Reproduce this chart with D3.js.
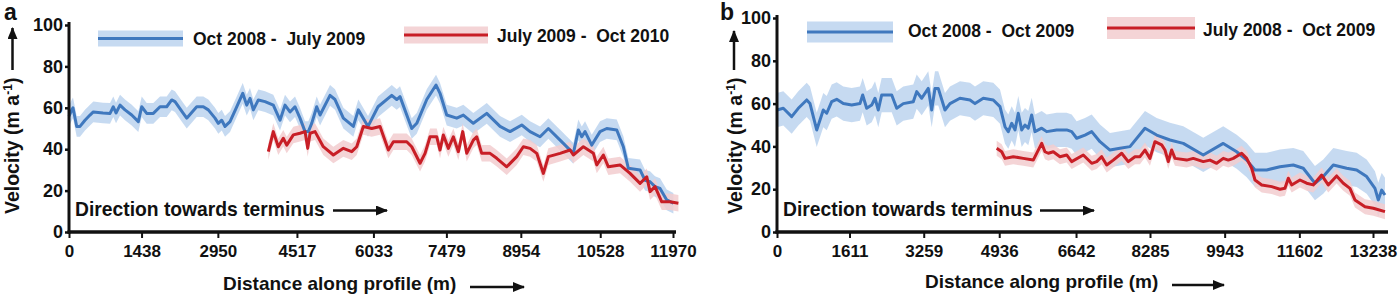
<!DOCTYPE html>
<html>
<head>
<meta charset="utf-8">
<script src="https://cdn.jsdelivr.net/npm/d3@7"></script>
<style>
  body { margin: 0; background: #fff; }
  text { font-family: "Liberation Sans", Arial, sans-serif; font-weight: bold; fill: #111; }
</style>
</head>
<body>
<script>
// ---- data (distance in m, velocity in m/a) ----
var yTicks = [0, 20, 40, 60, 80, 100];

// panel a
var aXTicks = [0, 1438, 2950, 4517, 6033, 7479, 8954, 10528, 11970];
var aBlueLabel = "Oct 2008 -  July 2009";
var aRedLabel = "July 2009 -  Oct 2010";
var aBlueDist = [0,54,79,153,218,317,416,482,674,813,878,932,1011,1110,1243,1374,1441,1540,1671,1804,1936,2036,2101,2265,2333,2531,2662,2761,2894,2959,3027,3092,3191,3324,3443,3522,3587,3653,3752,3885,4049,4182,4281,4380,4479,4578,4678,4743,4810,4909,4975,5173,5272,5437,5635,5734,5926,6124,6396,6495,6560,6792,6892,7090,7274,7353,7486,7684,7815,8013,8279,8542,8741,8973,9137,9335,9500,9732,9995,10094,10162,10227,10360,10524,10657,10855,10986,11085,11317,11416,11515,11614,11713,11846,11977];
var aBlueVel = [56,58.9,60,51,51,54,56.5,58,57.5,57.3,60.5,57.5,61.3,59,56.5,53.3,60.5,57.3,57.3,60.5,60.5,63.8,63,57.3,55,60.5,60.5,59,55,52.5,54,51,53.3,60.5,67,61.3,64.6,59,63.8,63,61.3,54,61.3,58,60.5,55,48.5,48.5,52.5,60.5,56.5,66,64,55,51,59,51,60.5,66,64,65.4,50,52.5,64,71,67,56.5,55,56.5,52.5,57.3,51,48.5,51.7,48.5,46,50,44.4,38,49.3,46,48.5,42,48.5,50,49.3,41.2,30.8,30,25,24.3,21.9,21,15.5,13.9];
var aBlueErr = 5;
var aRedDist = [3950,4049,4148,4247,4315,4446,4578,4678,4731,4777,4876,5040,5239,5437,5603,5702,5833,6000,6164,6329,6428,6693,6792,6957,7056,7155,7288,7353,7419,7518,7617,7716,7803,7882,8013,8080,8179,8344,8477,8675,8873,9004,9137,9270,9401,9500,9732,9930,9995,10194,10392,10459,10590,10689,10921,11119,11317,11450,11515,11614,11747,11912,12077];
var aRedVel = [38.8,48.5,41.2,45.3,42,46.9,47.7,48.5,40.4,47.7,48.5,41.2,37.2,40.4,38.8,41.2,51,50,51,39.6,43.6,43.6,41.2,33.2,38,46,46,39.6,46.9,40.4,46,38.8,48.5,38,44.4,46,38,38,35.6,31.5,36.4,41.2,40.4,38,28.3,36.4,38,39.6,37.2,41.2,38,32.4,37.2,31.5,32.4,28.3,23.5,26.7,19.5,21.9,14.6,14.6,13.9];
var aRedErr = 4;

// panel b
var bXTicks = [0, 1611, 3259, 4936, 6642, 8285, 9943, 11602, 13238];
var bBlueLabel = "Oct 2008 -  Oct 2009";
var bRedLabel = "July 2008 -  Oct 2009";
var bBlueDist = [0,140,326,473,660,733,882,1028,1104,1215,1326,1473,1659,1843,1903,1992,2103,2177,2250,2325,2548,2659,2805,3027,3103,3214,3360,3436,3509,3582,3731,3842,4064,4287,4398,4582,4804,4953,5064,5137,5213,5286,5359,5435,5508,5581,5657,5730,5879,5990,6212,6434,6545,6656,6841,6990,7174,7396,7618,7840,8173,8433,8729,9024,9468,9912,10210,10432,10617,10876,11172,11467,11689,11949,12133,12356,12653,12875,13097,13282,13355,13431,13504];
var bBlueVel = [57,57.8,53.9,57.8,61.7,60,47.7,57,55.5,60.9,62,60,59.3,60,64,57.8,59.3,62.5,57,64,64,57.8,60,60.9,65.6,62.5,67.1,57,67.1,67.1,57,60,62.5,61.7,60,62.5,61.7,58.6,49.2,46.9,50.8,47.7,55.5,47.7,50,48.5,54.7,46.9,48.5,46.9,47.7,47.7,46.9,43.8,45.3,46.9,42.2,38.3,39.1,39.9,48.5,45.3,43,41.4,36,41.4,37.5,33.6,29,29,30.5,31.3,29.8,22.8,25.9,31.3,29.8,29,25.9,20.4,15,19.6,17.3];
var bBlueErr = 8;
var bRedDist = [4880,4991,5064,5248,5470,5692,5879,5952,6026,6137,6285,6434,6545,6803,6990,7101,7212,7323,7469,7656,7802,7951,8062,8173,8284,8395,8544,8617,8691,8766,8840,9099,9246,9468,9617,9766,9912,10024,10135,10321,10432,10543,10617,10766,10988,11172,11283,11357,11431,11616,11764,11911,12098,12244,12430,12578,12726,12837,13060,13245,13504];
var bRedVel = [39.1,37.5,34.4,35.2,34.4,33.6,41.4,37.5,36.8,37.5,35.2,36,32.9,36,32.1,32.9,35.2,31.3,33.6,36.8,32.9,35.2,35.2,38.3,34.4,42.2,40.7,38.3,32.9,38.3,34.4,33.6,34.4,32.9,33.6,32.1,34.4,33.6,34.4,36.8,34.4,29.8,24.3,22,21.2,20,20.4,25.1,22,24.3,22.8,22,26.6,22,26.2,22.8,20.4,15,11.8,11.1,9.5];
var bRedErr = 3.5;

var blueLine = "#3f78be", blueBand = "#bcd3ef";
var redLine = "#c81e26", redBand = "#f2cdcf";

var svg = d3.select("body").append("svg")
    .attr("width", 1400)
    .attr("height", 299);

// arrow head
svg.append("defs").append("marker")
    .attr("id", "head")
    .attr("markerUnits", "userSpaceOnUse")
    .attr("markerWidth", 12).attr("markerHeight", 10)
    .attr("refX", 11).attr("refY", 5)
    .attr("orient", "auto")
  .append("path")
    .attr("d", "M0,0 L12,5 L0,10 Z")
    .attr("fill", "#111");

function arrow(x1, y1, x2, y2) {
  svg.append("line")
    .attr("x1", x1).attr("y1", y1).attr("x2", x2).attr("y2", y2)
    .attr("stroke", "#111").attr("stroke-width", 2.5)
    .attr("marker-end", "url(#head)");
}

function drawPanel(p) {
  var x = d3.scaleLinear().domain([0, p.xMax]).range([p.left, p.right]);
  var y = d3.scaleLinear().domain([0, 100]).range([232, p.top]);
  var g = svg.append("g");

  var series = [
    {dist: p.blueDist, vel: p.blueVel, err: p.blueErr, line: blueLine, band: blueBand},
    {dist: p.redDist, vel: p.redVel, err: p.redErr, line: redLine, band: redBand}
  ];

  // error bands
  series.forEach(function(s) {
    var pts = d3.zip(s.dist, s.vel);
    var area = d3.area()
      .x(d => x(d[0]))
      .y0(d => y(d[1] - s.err))
      .y1(d => y(d[1] + s.err));
    g.append("path").datum(pts)
      .attr("d", area)
      .attr("fill", s.band)
      .attr("opacity", 0.85);
  });

  // velocity lines
  series.forEach(function(s) {
    var pts = d3.zip(s.dist, s.vel);
    var line = d3.line().x(d => x(d[0])).y(d => y(d[1]));
    g.append("path").datum(pts)
      .attr("d", line)
      .attr("fill", "none")
      .attr("stroke", s.line)
      .attr("stroke-width", 3)
      .attr("stroke-linejoin", "round");
  });

  // x axis
  var xAxis = g.append("g")
    .attr("transform", "translate(0,232)")
    .call(d3.axisBottom(x).tickValues(p.xTicks).tickSize(6).tickPadding(7).tickFormat(d3.format("d")));
  xAxis.select(".domain").remove();
  xAxis.selectAll(".tick line").attr("stroke", "#111").attr("stroke-width", 2);
  xAxis.selectAll("text").style("font-size", "17px").attr("fill", "#111");

  // y axis
  var yAxis = g.append("g")
    .attr("transform", "translate(" + p.left + ",0)")
    .call(d3.axisLeft(y).tickValues(yTicks).tickSize(4).tickPadding(2));
  yAxis.select(".domain").remove();
  yAxis.selectAll(".tick line").attr("stroke", "#111").attr("stroke-width", 2.5);
  yAxis.selectAll("text").style("font-size", "18px").attr("fill", "#111");

  // thick axis lines
  g.append("line")
    .attr("x1", p.left - 1.5).attr("x2", p.axisEnd)
    .attr("y1", 232).attr("y2", 232)
    .attr("stroke", "#111").attr("stroke-width", 3.5);
  g.append("line")
    .attr("x1", p.left).attr("x2", p.left)
    .attr("y1", 233.5).attr("y2", y(100) - 3)
    .attr("stroke", "#111").attr("stroke-width", 3);

  // panel letter
  svg.append("text").attr("x", p.letterX).attr("y", 20)
    .style("font-size", "23px").text(p.letter);

  // y title with arrow
  var yt = svg.append("text")
    .attr("transform", "translate(" + p.yTitleX + ",214) rotate(-90)")
    .style("font-size", "19.5px");
  yt.append("tspan").text("Velocity (m a");
  yt.append("tspan").attr("dy", -7).style("font-size", "12px").text("-1");
  yt.append("tspan").attr("dy", 7).text(")");
  arrow(p.yArrowX, 70, p.yArrowX, p.yArrowTop);

  // x title with arrow
  svg.append("text").attr("x", p.xTitleX).attr("y", p.xTitleY)
    .style("font-size", "19px").text("Distance along profile (m)");
  arrow(p.xArrow[0], p.xTitleY - 3, p.xArrow[1], p.xTitleY - 3);

  // direction note
  svg.append("text").attr("x", p.left + 6).attr("y", 216)
    .style("font-size", "19.3px").text("Direction towards terminus");
  arrow(p.dirArrow[0], 210.5, p.dirArrow[1], 210.5);

  // legend
  p.legend.forEach(function(l) {
    svg.append("rect")
      .attr("x", l.x0).attr("y", l.ly - l.h / 2)
      .attr("width", l.x1 - l.x0).attr("height", l.h)
      .attr("fill", l.band).attr("opacity", 0.85);
    svg.append("line")
      .attr("x1", l.x0).attr("x2", l.x1)
      .attr("y1", l.ly).attr("y2", l.ly)
      .attr("stroke", l.line).attr("stroke-width", 3);
    svg.append("text")
      .attr("x", l.tx).attr("y", l.ty)
      .style("font-size", "17.5px")
      .style("white-space", "pre")
      .text(l.label);
  });
}

drawPanel({
  letter: "a", letterX: 4,
  left: 69, right: 673, xMax: 11970, axisEnd: 676, top: 25,
  xTicks: aXTicks,
  blueDist: aBlueDist, blueVel: aBlueVel, blueErr: aBlueErr,
  redDist: aRedDist, redVel: aRedVel, redErr: aRedErr,
  yTitleX: 19, yArrowX: 12.5, yArrowTop: 28,
  xTitleX: 223, xTitleY: 290, xArrow: [470, 524],
  dirArrow: [333, 387],
  legend: [
    {x0: 98, x1: 183, ly: 38.5, h: 16, line: blueLine, band: blueBand, tx: 193, ty: 45, label: aBlueLabel},
    {x0: 404, x1: 488, ly: 35, h: 17, line: redLine, band: redBand, tx: 497, ty: 41.5, label: aRedLabel}
  ]
});

drawPanel({
  letter: "b", letterX: 720,
  left: 777, right: 1373, xMax: 13238, axisEnd: 1388, top: 18,
  xTicks: bXTicks,
  blueDist: bBlueDist, blueVel: bBlueVel, blueErr: bBlueErr,
  redDist: bRedDist, redVel: bRedVel, redErr: bRedErr,
  yTitleX: 742, yArrowX: 734, yArrowTop: 31,
  xTitleX: 925, xTitleY: 288, xArrow: [1172, 1224],
  dirArrow: [1040, 1094],
  legend: [
    {x0: 807, x1: 893, ly: 32, h: 21, line: blueLine, band: blueBand, tx: 908, ty: 37, label: bBlueLabel},
    {x0: 1107, x1: 1195, ly: 28, h: 22, line: redLine, band: redBand, tx: 1203, ty: 36, label: bRedLabel}
  ]
});
</script>
</body>
</html>
